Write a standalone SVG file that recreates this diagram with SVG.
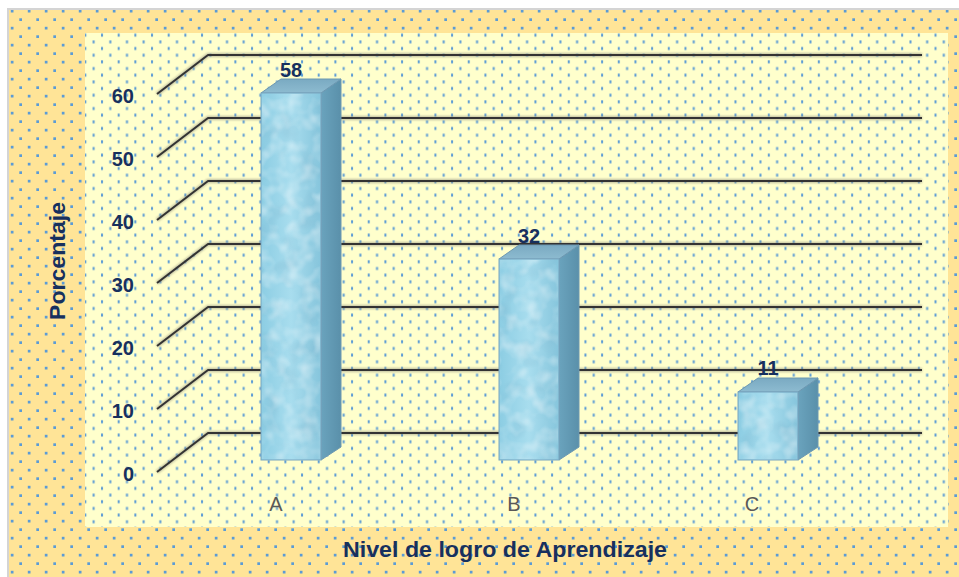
<svg xmlns="http://www.w3.org/2000/svg" width="959" height="577" viewBox="0 0 959 577">
  <defs>
    <pattern id="outerDots" patternUnits="userSpaceOnUse" x="0" y="0" width="17" height="17">
      <rect x="0" y="0" width="17" height="17" fill="#FFE497"/>
      <rect x="10.8" y="9.8" width="2.7" height="2.7" fill="#5B9BD5"/>
      <rect x="2.3" y="1.3" width="2.7" height="2.7" fill="#5B9BD5"/>
    </pattern>
    <pattern id="innerDots" patternUnits="userSpaceOnUse" x="0" y="0" width="16.67" height="13.33">
      <rect x="0" y="0" width="16.67" height="13.33" fill="#FFFFCC"/>
      <rect x="1" y="7" width="2" height="3" fill="#5B9BD5"/>
      <rect x="9.3" y="0.4" width="2" height="3" fill="#5B9BD5"/>
    </pattern>
    <linearGradient id="frontGrad" x1="0" y1="0" x2="1" y2="0">
      <stop offset="0" stop-color="#8CCDE3"/>
      <stop offset="0.5" stop-color="#A8DDEE"/>
      <stop offset="1" stop-color="#86C5DC"/>
    </linearGradient>
    <linearGradient id="sideGrad" x1="0" y1="0" x2="1" y2="0">
      <stop offset="0" stop-color="#6AA3BD"/>
      <stop offset="1" stop-color="#5A90AA"/>
    </linearGradient>
    <linearGradient id="topGrad" x1="0" y1="1" x2="0" y2="0">
      <stop offset="0" stop-color="#8DBBD0"/>
      <stop offset="1" stop-color="#7AAAC2"/>
    </linearGradient>
    <filter id="tex" x="0" y="0" width="100%" height="100%">
      <feTurbulence type="fractalNoise" baseFrequency="0.07" numOctaves="2" seed="5" result="n"/>
      <feColorMatrix in="n" type="matrix" values="0 0 0 0 1  0 0 0 0 1  0 0 0 0 1  0 0 0 -2.2 1.3" result="w"/>
      <feComposite in="w" in2="SourceGraphic" operator="in"/>
    </filter>
    <filter id="texDark" x="0" y="0" width="100%" height="100%">
      <feTurbulence type="fractalNoise" baseFrequency="0.05" numOctaves="2" seed="11" result="n"/>
      <feColorMatrix in="n" type="matrix" values="0 0 0 0 0.2  0 0 0 0 0.45  0 0 0 0 0.6  0 0 0 2.4 -1.2" result="w"/>
      <feComposite in="w" in2="SourceGraphic" operator="in"/>
    </filter>
    <filter id="soft" x="-5%" y="-50%" width="110%" height="200%">
      <feGaussianBlur stdDeviation="1.2"/>
    </filter>
  </defs>
  <style>
    .grid { fill: none; stroke: #333333; stroke-width: 2; stroke-linejoin: round; }
    .gridShadow { fill: none; stroke: #8A8A7A; stroke-width: 4; opacity: 0.55; filter: url(#soft); }
    .front { fill: url(#frontGrad); stroke: #7AA6C0; stroke-width: 1; }
    .side { fill: url(#sideGrad); stroke: #6C98B2; stroke-width: 1; }
    .top { fill: url(#topGrad); stroke: #6C98B2; stroke-width: 1; }
    .texture { fill: #FFFFFF; opacity: 0.4; filter: url(#tex); }
    .textureDark { fill: #FFFFFF; opacity: 0.35; filter: url(#texDark); }
    .tick { font-family: "Liberation Sans", Arial, sans-serif; font-weight: bold; font-size: 20px; fill: #17305E; text-anchor: end; }
    .val { font-family: "Liberation Sans", Arial, sans-serif; font-weight: bold; font-size: 20px; fill: #17305E; text-anchor: middle; }
    .cat { font-family: "Liberation Sans", Arial, sans-serif; font-size: 20px; fill: #595959; text-anchor: middle; }
    .title { font-family: "Liberation Sans", Arial, sans-serif; font-weight: bold; font-size: 22px; fill: #17305E; text-anchor: middle; }
  </style>

  <g id="background">
    <rect x="0" y="0" width="959" height="577" fill="#FFFFFF"/>
    <rect x="8" y="9" width="960" height="580" fill="url(#outerDots)" stroke="#D4D4D4" stroke-width="2"/>
  </g>

  <g id="plot-area">
    <rect x="85" y="33" width="863" height="494" fill="url(#innerDots)"/>
  </g>

  <g id="gridlines">
    <polyline class="gridShadow" points="157,472 208,433 922,433"/>
    <polyline class="gridShadow" points="157,409 208,370 922,370"/>
    <polyline class="gridShadow" points="157,346 208,307 922,307"/>
    <polyline class="gridShadow" points="157,283 208,244 922,244"/>
    <polyline class="gridShadow" points="157,220 208,181 922,181"/>
    <polyline class="gridShadow" points="157,157 208,118 922,118"/>
    <polyline class="gridShadow" points="157,94 208,55 922,55"/>
    <polyline class="grid" points="157,472 208,433 922,433"/>
    <polyline class="grid" points="157,409 208,370 922,370"/>
    <polyline class="grid" points="157,346 208,307 922,307"/>
    <polyline class="grid" points="157,283 208,244 922,244"/>
    <polyline class="grid" points="157,220 208,181 922,181"/>
    <polyline class="grid" points="157,157 208,118 922,118"/>
    <polyline class="grid" points="157,94 208,55 922,55"/>
  </g>

  <g id="y-axis-labels">
    <text class="tick" x="134" y="481">0</text>
    <text class="tick" x="134" y="418">10</text>
    <text class="tick" x="134" y="355">20</text>
    <text class="tick" x="134" y="292">30</text>
    <text class="tick" x="134" y="229">40</text>
    <text class="tick" x="134" y="166">50</text>
    <text class="tick" x="134" y="103">60</text>
  </g>

  <g id="bar-A">
    <polygon class="side" points="321,93 341,79 341,447 321,460"/>
    <polygon class="top" points="261,93 281,79 341,79 321,93"/>
    <rect class="front" x="261" y="93" width="60" height="367"/>
    <rect class="textureDark" x="262" y="94" width="58" height="365"/>
    <rect class="texture" x="262" y="94" width="58" height="365"/>
    <text class="val" x="291" y="77">58</text>
    <text class="cat" x="276" y="511">A</text>
  </g>

  <g id="bar-B">
    <polygon class="side" points="559,259 579,245 579,447 559,460"/>
    <polygon class="top" points="499,259 519,245 579,245 559,259"/>
    <rect class="front" x="499" y="259" width="60" height="201"/>
    <rect class="textureDark" x="500" y="260" width="58" height="199"/>
    <rect class="texture" x="500" y="260" width="58" height="199"/>
    <text class="val" x="529" y="243">32</text>
    <text class="cat" x="514" y="511">B</text>
  </g>

  <g id="bar-C">
    <polygon class="side" points="798,392 818,378 818,447 798,460"/>
    <polygon class="top" points="738,392 758,378 818,378 798,392"/>
    <rect class="front" x="738" y="392" width="60" height="68"/>
    <rect class="textureDark" x="739" y="393" width="58" height="66"/>
    <rect class="texture" x="739" y="393" width="58" height="66"/>
    <text class="val" x="768" y="375">11</text>
    <text class="cat" x="752" y="511">C</text>
  </g>

  <g id="axis-titles">
    <text class="title" x="0" y="0" transform="translate(65,261) rotate(-90)" textLength="118" lengthAdjust="spacingAndGlyphs">Porcentaje</text>
    <text class="title" x="505" y="557" textLength="324" lengthAdjust="spacingAndGlyphs">Nivel de logro de Aprendizaje</text>
  </g>
</svg>
